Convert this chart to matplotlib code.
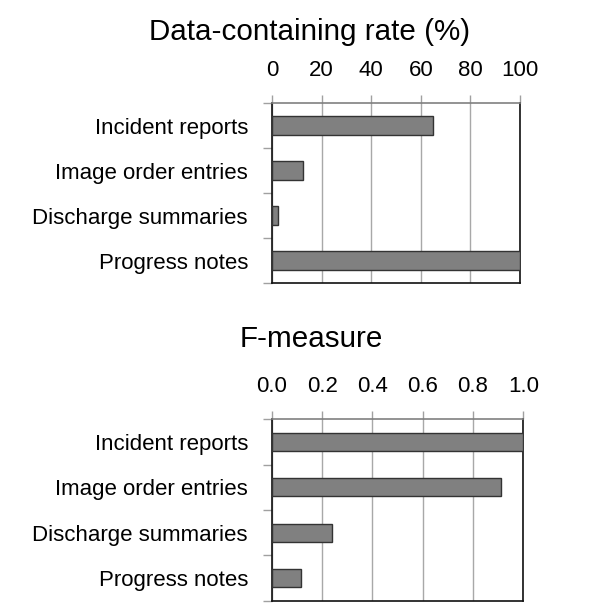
import matplotlib
matplotlib.use("Agg")
import matplotlib.pyplot as plt

plt.rcParams['font.family'] = ['Liberation Sans', 'DejaVu Sans']

# data
categories = ["Incident reports", "Image order entries", "Discharge summaries", "Progress notes"]
rate_values = [65, 12.5, 2.4, 100]
fmeasure_values = [1.0, 0.91, 0.237, 0.116]

rate_ticks = [0, 20, 40, 60, 80, 100]
rate_ticklabels = ["0", "20", "40", "60", "80", "100"]
f_ticks = [0.0, 0.2, 0.4, 0.6, 0.8, 1.0]
f_ticklabels = ["0.0", "0.2", "0.4", "0.6", "0.8", "1.0"]

fig = plt.figure(figsize=(6.0, 6.16), dpi=100)
ax1 = fig.add_axes([0.4533, 0.5401, 0.4133, 0.2922])
ax2 = fig.add_axes([0.4533, 0.0248, 0.4188, 0.2945])


def style_axis(ax, values, ticks, ticklabels, xmax, bar_h):
    y = list(range(len(categories)))
    ax.barh(y, values, height=bar_h, color="#808080", edgecolor="#333333", linewidth=1.0, zorder=3)
    ax.set_xlim(0, xmax)
    ax.set_ylim(len(categories) - 0.5, -0.5)
    ax.set_xticks(ticks)
    ax.set_xticklabels(ticklabels)
    ax.xaxis.tick_top()
    ax.tick_params(axis="x", which="major", length=5.8, width=1, color="#a0a0a0",
                   pad=10.5, labelsize=16)
    ax.set_yticks(y)
    ax.set_yticklabels(categories)
    ax.set_yticks([i - 0.5 for i in range(len(categories) + 1)], minor=True)
    ax.tick_params(axis="y", which="major", length=0, pad=17.3, labelsize=16)
    ax.tick_params(axis="y", which="minor", length=6.5, width=1, color="#a0a0a0")
    ax.grid(axis="x", color="#a8a8a8", linewidth=1.0, zorder=0)
    for side in ["left", "right", "bottom"]:
        ax.spines[side].set_color("#111111")
        ax.spines[side].set_linewidth(1.2)
    ax.spines["top"].set_color("#808080")
    ax.spines["top"].set_linewidth(1.2)


style_axis(ax1, rate_values, rate_ticks, rate_ticklabels, 100, 0.42)
style_axis(ax2, fmeasure_values, f_ticks, f_ticklabels, 1.0, 0.40)

fig.text(0.5167, 0.9351, "Data-containing rate (%)", ha="center", va="baseline", fontsize=21.3)
fig.text(0.5183, 0.4362, "F-measure", ha="center", va="baseline", fontsize=21.3)

fig.savefig("out.png", dpi=100)
